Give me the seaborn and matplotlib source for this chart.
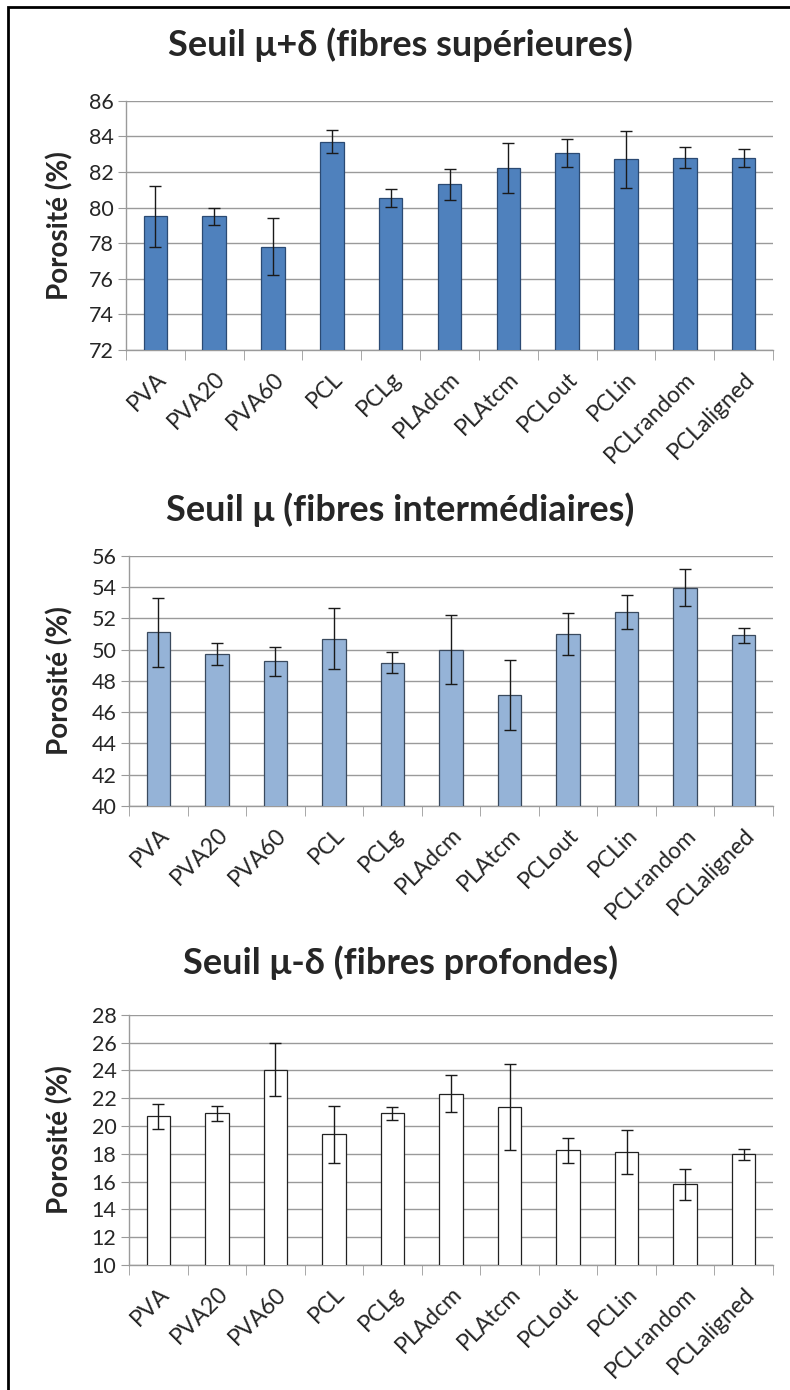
import numpy as np
import pandas as pd
import matplotlib
matplotlib.use("Agg")
import matplotlib.pyplot as plt
import seaborn as sns
from matplotlib.patches import Rectangle
from matplotlib.ticker import FixedLocator, MultipleLocator

categories = ["PVA", "PVA20", "PVA60", "PCL", "PCLg", "PLAdcm", "PLAtcm",
              "PCLout", "PCLin", "PCLrandom", "PCLaligned"]

sup_mean = [79.5, 79.5, 77.8, 83.7, 80.55, 81.3, 82.2, 83.05, 82.7, 82.8, 82.8]
sup_err = [1.7, 0.5, 1.6, 0.65, 0.5, 0.85, 1.4, 0.8, 1.6, 0.6, 0.5]

int_mean = [51.1, 49.7, 49.25, 50.7, 49.15, 50.0, 47.1, 51.0, 52.4, 53.95, 50.9]
int_err = [2.2, 0.7, 0.93, 1.95, 0.67, 2.2, 2.25, 1.35, 1.07, 1.17, 0.5]

deep_mean = [20.7, 20.9, 24.05, 19.4, 20.9, 22.3, 21.35, 18.25, 18.1, 15.8, 17.95]
deep_err = [0.9, 0.56, 1.93, 2.07, 0.45, 1.33, 3.08, 0.89, 1.58, 1.09, 0.39]

titles = ["Seuil μ+δ (fibres supérieures)",
          "Seuil μ (fibres intermédiaires)",
          "Seuil μ-δ (fibres profondes)"]
ylabel = "Porosité (%)"
ylims = [(72, 86), (40, 56), (10, 28)]

sns.set_style("white")
plt.rcParams["font.family"] = ["Lato", "DejaVu Sans"]

W, H = 790, 1390
fig = plt.figure(figsize=(W / 100, H / 100), dpi=100)

def fx(px):
    return px / W

def fy(py):
    return 1 - py / H

# axes rectangles in pixels: (left, top, right, bottom)
boxes = [(126, 100.7, 773, 350), (129, 555.7, 773, 806), (129, 1014.7, 773, 1265)]
title_y = [45, 510, 963]
colors = ["#4F81BD", "#95B3D7", "#FFFFFF"]
edges = ["#2B4A73", "#3A4A5E", "#222222"]
means = [sup_mean, int_mean, deep_mean]
errs = [sup_err, int_err, deep_err]

for i in range(3):
    l, t, r, b = boxes[i]
    ax = fig.add_axes([fx(l), fy(b), fx(r) - fx(l), fy(t) - fy(b)])
    df = pd.DataFrame({"cat": categories, "val": means[i], "err": errs[i]})
    sns.barplot(data=df, x="cat", y="val", color=colors[i], width=0.4,
                edgecolor=edges[i], linewidth=0.9, saturation=1, ax=ax,
                errorbar=None, zorder=3)
    ax.errorbar(np.arange(len(categories)), df["val"], yerr=df["err"],
                fmt="none", ecolor="#1a1a1a", elinewidth=1.0, capsize=4,
                capthick=1.0, zorder=4)
    lo, hi = ylims[i]
    ax.set_ylim(lo, hi)
    ax.set_xlim(-0.5, len(categories) - 0.5)
    ax.yaxis.set_major_locator(MultipleLocator(2))
    ax.grid(axis="y", color="#9A9A9A", linewidth=1.0, zorder=0)
    ax.set_axisbelow(True)
    for s in ["top", "right"]:
        ax.spines[s].set_visible(False)
    for s in ["left", "bottom"]:
        ax.spines[s].set_color("#9A9A9A")
        ax.spines[s].set_linewidth(1.0)
    ax.set_xlabel("")
    ax.set_ylabel(ylabel, fontsize=20, fontweight="bold")
    ax.tick_params(axis="y", which="major", length=6, color="#9A9A9A",
                   labelsize=15.5, pad=3, direction="out", left=True)
    ax.set_xticks(np.arange(len(categories)))
    ax.set_xticklabels(categories, rotation=45, ha="right",
                       rotation_mode="anchor", fontsize=16.5)
    ax.tick_params(axis="x", which="major", length=0, pad=13)
    ax.xaxis.set_minor_locator(FixedLocator(np.arange(-0.5, len(categories), 1.0)))
    ax.tick_params(axis="x", which="minor", length=7, color="#9A9A9A",
                   direction="out", bottom=True)
    ax.yaxis.set_label_coords((73 - l) / (r - l), 0.5)
    fig.text(0.507, fy(title_y[i]), titles[i], ha="center", va="center",
             fontsize=26, fontweight="bold")

# outer frame
fig.patches.append(Rectangle((fx(8), -0.1), 1.2, fy(7) + 0.1, transform=fig.transFigure,
                             fill=False, edgecolor="black", linewidth=2.0))

fig.savefig("out.png", dpi=100)
